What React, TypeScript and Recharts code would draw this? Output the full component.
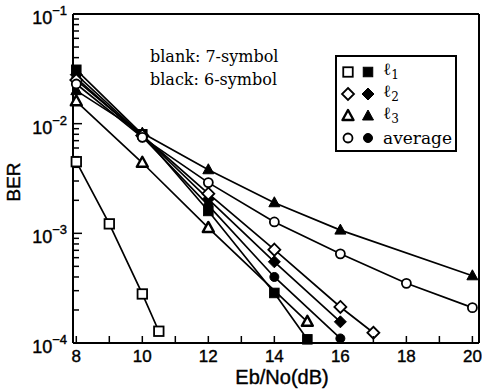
import { LineChart, Line, XAxis, YAxis, Legend } from 'recharts';

const W = 482;
const H = 392;

// x ticks every dB, labels only on the even ones
const ebNoTicks = [8, 9, 10, 11, 12, 13, 14, 15, 16, 17, 18, 19, 20];
const berMantissas = [1, 2, 3, 4, 5, 6, 7, 8, 9];
const berDecades = [-4, -3, -2];
const berTicks = [
    ...berDecades.flatMap(d => berMantissas.map(m => m * Math.pow(10, d))),
    0.1,
];

// blank = 7-symbol, black = 6-symbol
const l1BlankEbNo = [8, 9, 10, 10.5];
const l1BlankBer = [4.5e-3, 1.22e-3, 2.8e-4, 1.28e-4];
const l1BlackEbNo = [8, 10, 12, 14, 15];
const l1BlackBer = [3.1e-2, 8.0e-3, 1.6e-3, 2.86e-4, 1.08e-4];
const l2BlankEbNo = [8, 10, 12, 14, 16, 17];
const l2BlankBer = [2.5e-2, 7.8e-3, 2.3e-3, 7.1e-4, 2.13e-4, 1.24e-4];
const l2BlackEbNo = [8, 10, 12, 14, 16];
const l2BlackBer = [2.8e-2, 7.8e-3, 2.05e-3, 5.5e-4, 1.56e-4];
const l3BlankEbNo = [8, 10, 12, 15];
const l3BlankBer = [1.6e-2, 4.4e-3, 1.12e-3, 1.56e-4];
const l3BlackEbNo = [8, 10, 12, 14, 16, 20];
const l3BlackBer = [2.0e-2, 8.2e-3, 3.8e-3, 1.9e-3, 1.07e-3, 4.1e-4];
const avgBlankEbNo = [8, 10, 12, 14, 16, 18, 20];
const avgBlankBer = [2.3e-2, 7.5e-3, 2.9e-3, 1.27e-3, 6.5e-4, 3.5e-4, 2.1e-4];
const avgBlackEbNo = [8, 10, 12, 14, 16];
const avgBlackBer = [2.6e-2, 7.6e-3, 1.8e-3, 4.0e-4, 1.1e-4];

type Shape = 'square' | 'diamond' | 'triangle' | 'circle';

const series: { id: string; x: number[]; y: number[]; shape: Shape; filled: boolean }[] = [
    { id: 'l1k', x: l1BlackEbNo, y: l1BlackBer, shape: 'square', filled: true },
    { id: 'l2k', x: l2BlackEbNo, y: l2BlackBer, shape: 'diamond', filled: true },
    { id: 'l3k', x: l3BlackEbNo, y: l3BlackBer, shape: 'triangle', filled: true },
    { id: 'avk', x: avgBlackEbNo, y: avgBlackBer, shape: 'circle', filled: true },
    { id: 'l1b', x: l1BlankEbNo, y: l1BlankBer, shape: 'square', filled: false },
    { id: 'l2b', x: l2BlankEbNo, y: l2BlankBer, shape: 'diamond', filled: false },
    { id: 'l3b', x: l3BlankEbNo, y: l3BlankBer, shape: 'triangle', filled: false },
    { id: 'avb', x: avgBlankEbNo, y: avgBlankBer, shape: 'circle', filled: false },
];

const legendRows: { shape: Shape; name: string; sub?: string }[] = [
    { shape: 'square', name: 'ℓ', sub: '1' },
    { shape: 'diamond', name: 'ℓ', sub: '2' },
    { shape: 'triangle', name: 'ℓ', sub: '3' },
    { shape: 'circle', name: 'average' },
];

const SANS = '"Liberation Sans", Arial, sans-serif';
const SERIF = '"DejaVu Serif", serif';

function Marker({ cx, cy, shape, filled }: { cx: number; cy: number; shape: Shape; filled: boolean }) {
    const fill = filled ? '#000' : '#fff';
    const sw = filled ? 1 : 1.8;
    if (shape === 'square') {
        const s = 9.5;
        return <rect x={cx - s / 2} y={cy - s / 2} width={s} height={s} fill={fill} stroke="#000" strokeWidth={sw} />;
    }
    if (shape === 'diamond') {
        const r = 6;
        return (
            <polygon
                points={`${cx},${cy - r} ${cx + r},${cy} ${cx},${cy + r} ${cx - r},${cy}`}
                fill={fill}
                stroke="#000"
                strokeWidth={sw}
            />
        );
    }
    if (shape === 'triangle') {
        return (
            <polygon
                points={`${cx},${cy - 6} ${cx + 5.5},${cy + 4} ${cx - 5.5},${cy + 4}`}
                fill={fill}
                stroke="#000"
                strokeWidth={filled ? 1 : 2.4}
                strokeLinejoin="round"
            />
        );
    }
    return <circle cx={cx} cy={cy} r={4.5} fill={fill} stroke="#000" strokeWidth={sw} />;
}

const BottomTick = ({ x, y, payload }: any) => (
    <g>
        <line x1={x} x2={x} y1={y} y2={y - 7} stroke="#000" strokeWidth={1.5} />
        {payload.value % 2 === 0 && (
            <text x={x} y={y + 19} textAnchor="middle" fontFamily={SANS} fontSize={17} fill="#000" stroke="#000" strokeWidth={0.4}>
                {payload.value}
            </text>
        )}
    </g>
);

const TopTick = ({ x, y }: any) => (
    <line x1={x} x2={x} y1={y} y2={y + 6} stroke="#000" strokeWidth={1.5} />
);

const isDecade = (v: number) => Math.abs(Math.log10(v) - Math.round(Math.log10(v))) < 1e-6;

const LeftTick = ({ x, y, payload }: any) => {
    const major = isDecade(payload.value);
    return (
        <g>
            <line x1={x} x2={x + (major ? 9 : 6)} y1={y} y2={y} stroke="#000" strokeWidth={1.5} />
            {major && (
                <text x={x - 6} y={y + 10} textAnchor="end" fontFamily={SANS} fill="#000" stroke="#000" strokeWidth={0.4}>
                    <tspan fontSize={18}>10</tspan>
                    <tspan fontSize={13} dy={-9}>{'−' + Math.round(-Math.log10(payload.value))}</tspan>
                </text>
            )}
        </g>
    );
};

const RightTick = ({ x, y, payload }: any) => {
    const major = isDecade(payload.value);
    return <line x1={x} x2={x - (major ? 9 : 6)} y1={y} y2={y} stroke="#000" strokeWidth={1.5} />;
};

const LegendBox = () => (
    <div
        style={{
            width: 122,
            height: 97,
            border: '2px solid #000',
            boxSizing: 'border-box',
            background: '#fff',
            paddingTop: 4,
            fontFamily: SERIF,
            fontSize: 17,
            color: '#000',
        }}
    >
        {legendRows.map(r => (
            <div key={r.shape} style={{ height: 22, display: 'flex', alignItems: 'center' }}>
                <svg width={44} height={22} style={{ flex: 'none' }}>
                    <Marker cx={11} cy={11} shape={r.shape} filled={false} />
                    <Marker cx={31} cy={11} shape={r.shape} filled={true} />
                </svg>
                <span style={{ marginLeft: 2, lineHeight: '22px' }}>
                    {r.name}
                    {r.sub && <sub style={{ fontSize: 12 }}>{r.sub}</sub>}
                </span>
            </div>
        ))}
    </div>
);

export default function App() {
    const axisLine = { stroke: '#000', strokeWidth: 2 };
    return (
        <div style={{ position: 'absolute', left: 0, top: 0, width: W, height: H, background: '#fff' }}>
            <LineChart width={W} height={H} margin={{ top: 13, right: 2, bottom: 19, left: 0 }}>
                <XAxis
                    xAxisId="b"
                    dataKey="ebno"
                    type="number"
                    domain={[7.9, 20.2]}
                    ticks={ebNoTicks}
                    interval={0}
                    height={30}
                    axisLine={axisLine}
                    tickLine={false}
                    tickSize={0}
                    tickMargin={0}
                    tick={(p: any) => <BottomTick {...p} />}
                />
                <XAxis
                    xAxisId="t"
                    orientation="top"
                    type="number"
                    domain={[7.9, 20.2]}
                    ticks={ebNoTicks}
                    interval={0}
                    height={1}
                    axisLine={axisLine}
                    tickLine={false}
                    tickSize={0}
                    tickMargin={0}
                    tick={(p: any) => <TopTick {...p} />}
                />
                <YAxis
                    yAxisId="l"
                    type="number"
                    scale="log"
                    domain={[1e-4, 1e-1]}
                    ticks={berTicks}
                    interval={0}
                    width={73}
                    axisLine={axisLine}
                    tickLine={false}
                    tickSize={0}
                    tickMargin={0}
                    tick={(p: any) => <LeftTick {...p} />}
                />
                <YAxis
                    yAxisId="r"
                    orientation="right"
                    type="number"
                    scale="log"
                    domain={[1e-4, 1e-1]}
                    ticks={berTicks}
                    interval={0}
                    width={1}
                    axisLine={axisLine}
                    tickLine={false}
                    tickSize={0}
                    tickMargin={0}
                    tick={(p: any) => <RightTick {...p} />}
                />
                {series.map(s => (
                    <Line
                        key={s.id}
                        xAxisId="b"
                        yAxisId="l"
                        data={s.x.map((v, i) => ({ ebno: v, ber: s.y[i] }))}
                        dataKey="ber"
                        stroke="#000"
                        strokeWidth={1.7}
                        dot={(p: any) => (
                            <Marker key={`${s.id}-${p.index}`} cx={p.cx} cy={p.cy} shape={s.shape} filled={s.filled} />
                        )}
                        activeDot={false}
                        isAnimationActive={false}
                    />
                ))}
                <Legend
                    layout="horizontal"
                    verticalAlign="middle"
                    align="center"
                    wrapperStyle={{ left: 335, top: 55, width: 122 }}
                    content={() => <LegendBox />}
                />
            </LineChart>
            <svg
                width={W}
                height={H}
                style={{ position: 'absolute', left: 0, top: 0, pointerEvents: 'none' }}
            >
                <text
                    x={13}
                    y={182}
                    transform="rotate(-90 13 182)"
                    textAnchor="middle"
                    dominantBaseline="central"
                    fontFamily={SANS}
                    fontSize={19}
                    fill="#000"
                    stroke="#000"
                    strokeWidth={0.4}
                >
                    BER
                </text>
                <text x={282} y={384} textAnchor="middle" fontFamily={SANS} fontSize={20} fill="#000" stroke="#000" strokeWidth={0.4}>
                    Eb/No(dB)
                </text>
                <text x={150} y={62} fontFamily={SERIF} fontSize={16} fill="#000">
                    blank: 7-symbol
                </text>
                <text x={150} y={85} fontFamily={SERIF} fontSize={16} fill="#000">
                    black: 6-symbol
                </text>
            </svg>
        </div>
    );
}
